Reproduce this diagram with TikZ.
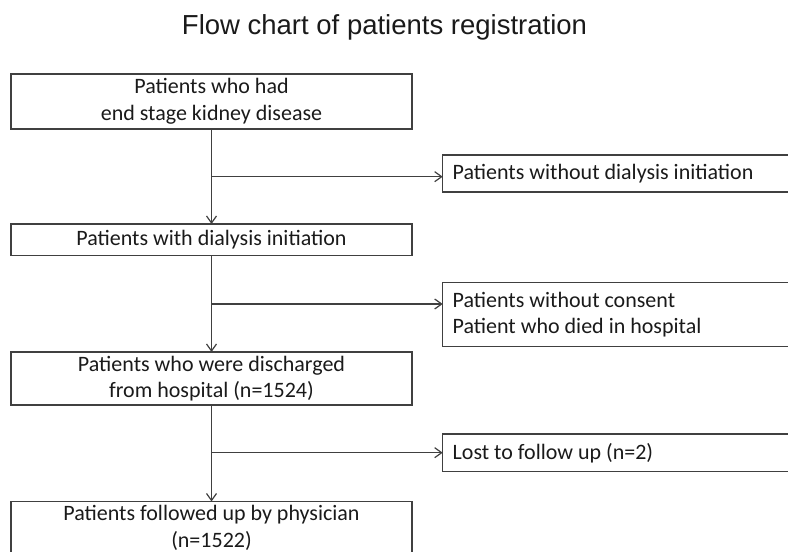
\documentclass[tikz,border=0pt]{standalone}
\usepackage{fontspec}
\setmainfont{Carlito}
\newfontfamily\titlefont{Liberation Sans}
\usetikzlibrary{arrows.meta}
\definecolor{linec}{HTML}{404040}
\definecolor{textc}{HTML}{1A1A1A}
\begin{document}
\begin{tikzpicture}[x=1bp,y=-1bp,
  boxfont/.style={font=\fontsize{22bp}{26.7bp}\selectfont},
  mainbox/.style={draw=linec, line width=1.3bp, minimum width=401bp, inner sep=0pt, outer sep=0pt, align=center, boxfont, text=textc},
  sidebox/.style={draw=linec, line width=1.3bp, anchor=west, inner xsep=10bp, inner ysep=0pt, outer sep=0pt, text width=337bp, align=flush left, boxfont, text=textc},
  conn/.style={draw=linec, line width=1.3bp},
  arr/.style={conn, -{Straight Barb[length=7bp,width=10bp,line width=1.2bp]}}
]
\clip (0,0) rectangle (788,552);
\node[font=\titlefont\fontsize{27.5bp}{33bp}\selectfont, text=textc, anchor=base, inner sep=0pt] (title) at (384.5,35) {Flow chart of patients registration};

\node[mainbox, minimum height=55bp] (b1) at (211.5,101.5) {Patients who had\\end stage kidney disease};
\node[mainbox, minimum height=31.5bp] (b2) at (211.5,239.75) {Patients with dialysis initiation};
\node[mainbox, minimum height=53bp] (b3) at (211.5,378.5) {Patients who were discharged\\from hospital (n=1524)};
\node[mainbox, minimum height=53bp] (b4) at (211.5,528) {Patients followed up by physician\\(n=1522)};

\node[sidebox, minimum height=37bp] (s1) at (442.7,173.5) {Patients without dialysis initiation};
\node[sidebox, minimum height=64bp] (s2) at (442.7,314.7) {Patients without consent\\Patient who died in hospital};
\node[sidebox, minimum height=37.5bp] (s3) at (442.7,452.8) {Lost to follow up (n=2)};

\path (b1.south) ++(0,47.7) coordinate (j1);
\path (b2.south) ++(0,48.5) coordinate (j2);
\path (b3.south) ++(0,47.7) coordinate (j3);

\draw[arr] (b1.south) -- (b2.north);
\draw[arr] (b2.south) -- (b3.north);
\draw[arr] (b3.south) -- (b4.north);
\draw[arr] (j1) -- (j1 -| s1.west);
\draw[arr] (j2) -- (j2 -| s2.west);
\draw[arr] (j3) -- (j3 -| s3.west);
\end{tikzpicture}
\end{document}
